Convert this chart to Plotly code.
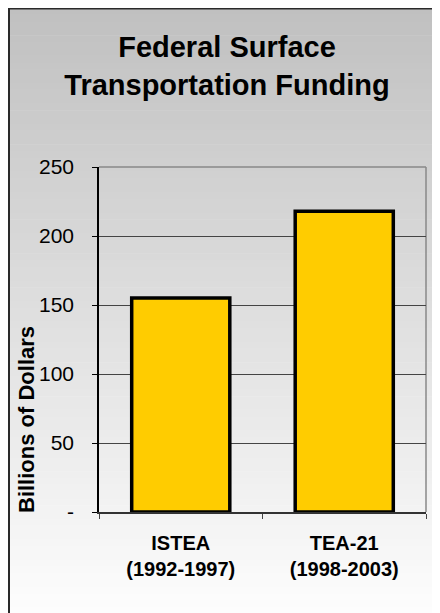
import plotly.graph_objects as go

# ---- data ----
categories = ["<b>ISTEA<br>(1992-1997)</b>", "<b>TEA-21<br>(1998-2003)</b>"]
funding_billions = [155, 218]
y_tick_values = [0, 50, 100, 150, 200, 250]
y_tick_labels = ["-", "50", "100", "150", "200", "250"]

W, H = 440, 613
OFF = 8  # page body margin
L, R, T, B = 99 - OFF, 426 - OFF, 167 - OFF, 512 - OFF  # plot area in figure pixels


def px_x(p):
    return (p - L) / (R - L)


def px_y(p):
    return (B - p) / (B - T)


fig = go.Figure()
fig.add_trace(go.Bar(
    x=categories, y=funding_billions, width=0.6,
    marker=dict(color="#FFCC00", line=dict(color="#000000", width=3.5)),
    hoverinfo="x+y",
))

shapes = []
# gradient background inside frame (bands)
top_px, bot_px = 0, 613
n = 90
c0, c1 = 192, 254
for i in range(n):
    y0 = top_px + (bot_px - top_px) * i / n
    y1 = top_px + (bot_px - top_px) * (i + 1) / n + 0.6
    c = round(c0 + (c1 - c0) * (i + 0.5) / n)
    shapes.append(dict(type="rect", xref="paper", yref="paper", layer="below",
                       x0=px_x(0), x1=px_x(W + 5), y0=px_y(y0), y1=px_y(y1),
                       fillcolor=f"rgb({c},{c},{c})", line=dict(width=0)))
# frame border (left and top)
shapes.append(dict(type="line", xref="paper", yref="paper", layer="above",
                   x0=px_x(1), x1=px_x(1), y0=px_y(0), y1=px_y(H + 5),
                   line=dict(color="#2a2a2a", width=2)))
shapes.append(dict(type="line", xref="paper", yref="paper", layer="above",
                   x0=px_x(0), x1=px_x(W + 5), y0=px_y(0.5), y1=px_y(0.5),
                   line=dict(color="#2a2a2a", width=2)))
# plot area top/right border
shapes.append(dict(type="line", xref="paper", yref="paper", layer="below",
                   x0=0, x1=1, y0=1, y1=1, line=dict(color="#888888", width=1.5)))
shapes.append(dict(type="line", xref="paper", yref="paper", layer="below",
                   x0=1, x1=1, y0=0, y1=1, line=dict(color="#888888", width=1.5)))

fig.update_layout(
    width=W, height=H, autosize=False,
    margin=dict(l=L, r=W - R, t=T, b=H - B, pad=0),
    paper_bgcolor="white", plot_bgcolor="rgba(0,0,0,0)",
    showlegend=False,
    font=dict(family="Liberation Sans, Arial, sans-serif", color="black"),
    title=dict(text="<b>Federal Surface<br>Transportation Funding</b>",
               x=219 / W, xref="container", xanchor="center",
               y=1 - 49 / H, yref="container", yanchor="middle",
               font=dict(size=29, color="black")),
    bargap=0.4,
    shapes=shapes,
    annotations=[dict(text="<b>Billions of Dollars</b>", textangle=-90,
                      xref="paper", yref="paper", x=px_x(26 - OFF), y=px_y(420 - OFF),
                      xanchor="center", yanchor="middle", showarrow=False,
                      font=dict(size=22, color="black"))],
)
fig.update_yaxes(range=[0, 250], tickvals=y_tick_values, ticktext=y_tick_labels,
                 ticks="outside", ticklen=5, tickcolor="black", tickwidth=1,
                 ticklabelstandoff=14,
                 showgrid=True, gridcolor="#444444", gridwidth=1,
                 showline=True, linecolor="black", linewidth=1.5,
                 zeroline=False, tickfont=dict(size=21), fixedrange=True)
fig.update_xaxes(ticks="outside", tickson="boundaries", ticklen=5, tickcolor="#444444",
                 showline=True, linecolor="#333333", linewidth=1.5,
                 ticklabelstandoff=12,
                 tickfont=dict(size=20), fixedrange=True)

fig.write_html("out.html")
